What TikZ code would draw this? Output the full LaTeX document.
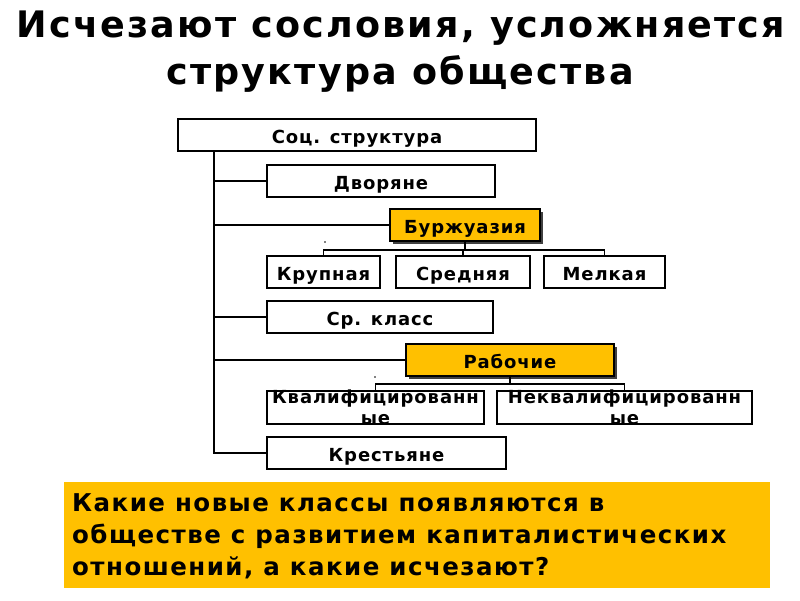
\documentclass[tikz,border=0pt]{standalone}
\usepackage{fontspec}
\setmainfont{DejaVu Sans}
\newfontfamily\titlefont[LetterSpace=6]{DejaVu Sans Bold}
\newfontfamily\boxfont[LetterSpace=5]{DejaVu Sans Bold}
\newfontfamily\qfont[LetterSpace=6]{DejaVu Sans Bold}
\usetikzlibrary{calc}
\definecolor{gold}{HTML}{FFC000}
\tikzset{
  x=1pt, y=-1pt,
  box/.style={draw=black, line width=2pt, fill=white, minimum height=32pt, inner sep=0pt,
    text height=16pt, text depth=0pt,
    font=\boxfont\fontsize{18}{20}\selectfont, align=center},
  goldbox/.style={box, fill=gold},
  shade/.style={fill=black!75},
  conn/.style={line width=2pt, draw=black},
  thin conn/.style={line width=1.5pt, draw=black},
  titletext/.style={font=\titlefont\fontsize{36.5}{44}\selectfont, anchor=base, inner sep=0pt},
  qtext/.style={font=\qfont\fontsize{24.5}{32.5}\selectfont, anchor=base west, inner sep=0pt},
  overflow/.style={font=\boxfont\fontsize{18}{20.5}\selectfont, align=center, inner sep=0pt},
}
\begin{document}
\begin{tikzpicture}
\useasboundingbox (0,0) rectangle (800,600);
\fill[white] (0,0) rectangle (800,600);
% title
\node[titletext] (title1) at (401,37) {Исчезают сословия, усложняется};
\node[titletext] (title2) at (400,84) {структура общества};
% shadows of gold boxes
\fill[shade] (393,212) rectangle (543,244);
\fill[shade] (409,347) rectangle (617,379);
% boxes
\node[box, minimum width=358pt] (soc) at (357,135) {Соц. структура};
\node[box, minimum width=228pt] (dvor) at (381,181) {Дворяне};
\node[goldbox, minimum width=150pt] (burzh) at (465,225) {Буржуазия};
\node[box, minimum width=113pt] (krup) at (323.5,272) {Крупная};
\node[box, minimum width=134pt] (sred) at (463,272) {Средняя};
\node[box, minimum width=121pt] (melk) at (604.5,272) {Мелкая};
\node[box, minimum width=226pt] (srkl) at (380,317) {Ср. класс};
\node[goldbox, minimum width=208pt] (rab) at (510,360) {Рабочие};
\node[box, minimum width=217pt, minimum height=33pt] (kval) at (375.5,407.5) {};
\node[box, minimum width=255pt, minimum height=33pt] (nekv) at (624.5,407.5) {};
\node[box, minimum width=239pt] (krest) at (386.5,453) {Крестьяне};
% overflowing texts
\node[overflow] (kvaltext) at (kval.center) {Квалифицированн\\ые};
\node[overflow] (nekvtext) at (nekv.center) {Неквалифицированн\\ые};
% trunk
\coordinate (trunk) at (214,0);
\draw[conn] (soc.south -| trunk) -- (krest.west -| trunk) -- (krest.west);
\draw[conn] (dvor.west -| trunk) -- (dvor.west);
\draw[conn] (burzh.west -| trunk) -- (burzh.west);
\draw[conn] (srkl.west -| trunk) -- (srkl.west);
\draw[conn] (rab.west -| trunk) -- (rab.west);
% bourgeoisie children
\coordinate (bbar) at (0,250);
\draw[thin conn] (burzh.south) -- (burzh.south |- bbar);
\draw[thin conn] (krup.north) -- (krup.north |- bbar) -- (melk.north |- bbar) -- (melk.north);
\draw[thin conn] (sred.north) -- (sred.north |- bbar);
% workers children
\coordinate (rbar) at (0,384);
\draw[thin conn] (rab.south) -- (rab.south |- rbar);
\draw[thin conn] (kval.north) -- (kval.north |- rbar) -- (nekv.north |- rbar) -- (nekv.north);
% stray dots
\fill (325,242) circle (0.8);
\fill (375,377) circle (0.8);
% question box
\fill[gold] (64,482) rectangle (770,588);
\node[qtext] (q1) at (72,511) {Какие новые классы появляются в};
\node[qtext] (q2) at (72,543) {обществе с развитием капиталистических};
\node[qtext] (q3) at (72,575) {отношений, а какие исчезают?};
\end{tikzpicture}
\end{document}
